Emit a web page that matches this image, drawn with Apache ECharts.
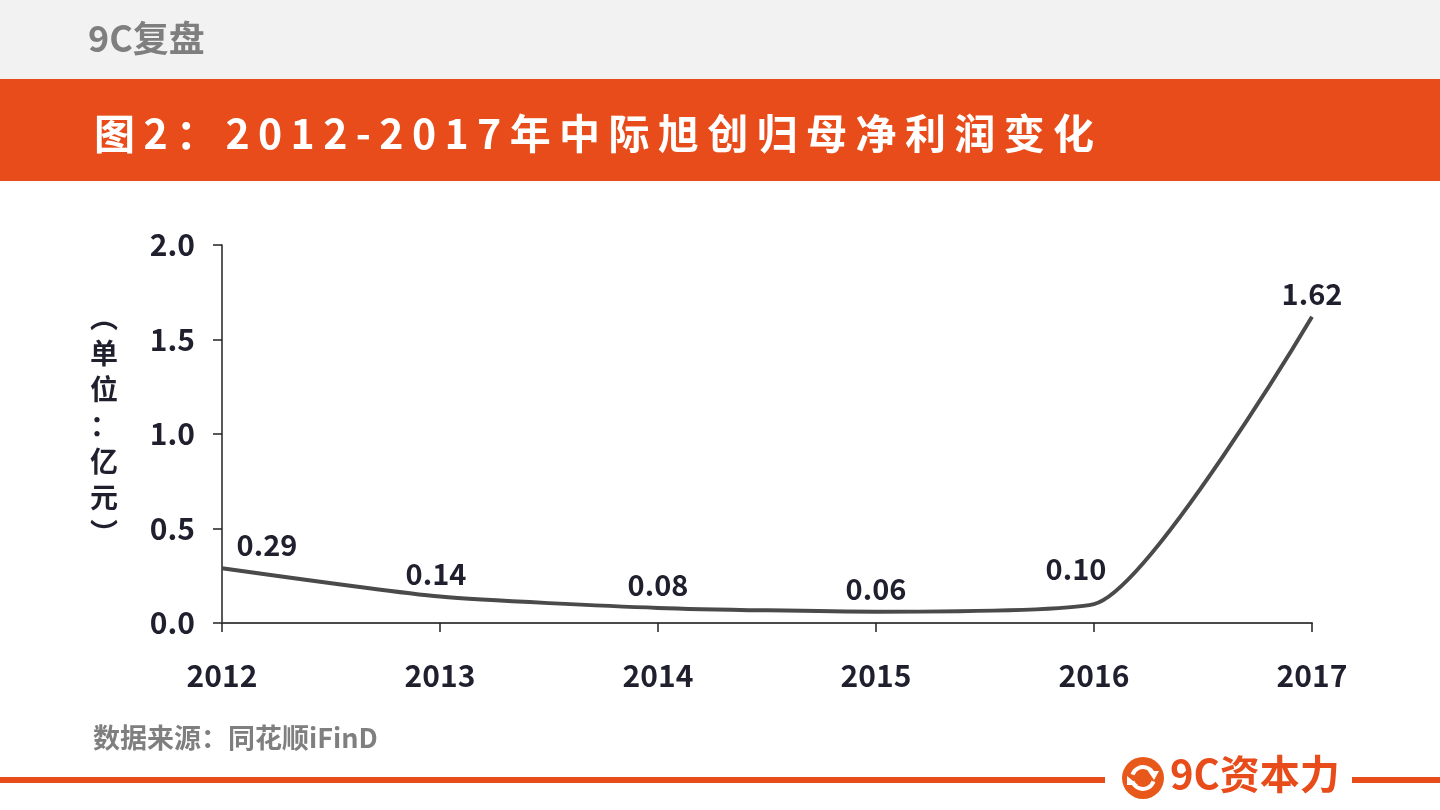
<!DOCTYPE html>
<html><head><meta charset="utf-8">
<script src="https://cdn.jsdelivr.net/npm/echarts@6/dist/echarts.min.js"></script>
<style>html,body{margin:0;padding:0;background:#fff}#c{width:1440px;height:810px}</style>
</head><body><div id="c"></div>
<script>
const years = ['2012','2013','2014','2015','2016','2017'];
const netProfit = [0.29, 0.14, 0.08, 0.06, 0.10, 1.62];
const yTicks = [0, 0.5, 1.0, 1.5, 2.0];
const headerText = '9C复盘';
const titleText = '图2：2012-2017年中际旭创归母净利润变化';
const sourceText = '数据来源：同花顺iFinD';
const brandText = '9C资本力';
const unitText = '︵\n单\n位\n：\n亿\n元\n︶';

const ORANGE = '#e84c1a';
const FONT = '"Noto Sans CJK SC","Noto Sans",sans-serif';
const labelOffsets = {0:[45,0], 1:[-4,0], 4:[-18,-12]};

// title laid out glyph by glyph with extra tracking
const titleFont = 'bold 41px ' + FONT;
const ctx = document.createElement('canvas').getContext('2d');
ctx.font = titleFont;
const titleGlyphs = [];
let tx = 94;
for (const ch of titleText) {
  titleGlyphs.push({type:'text', x:tx, y:133, style:{text:ch, fill:'#fff', font:titleFont, verticalAlign:'middle'}});
  tx += ctx.measureText(ch).width + 8.4;
}

const chart = echarts.init(document.getElementById('c'));
chart.setOption({
  animation:false,
  graphic:[
    {type:'rect', shape:{x:0,y:0,width:1440,height:79}, style:{fill:'#f2f2f2'}, z:-1},
    {type:'text', left:88, top:20, style:{text:headerText, fill:'#7f7f7f', font:'bold 36px '+FONT}},
    {type:'rect', shape:{x:0,y:79,width:1440,height:102}, style:{fill:ORANGE}, z:-1},
    ...titleGlyphs,
    {type:'text', x:104, y:299, style:{text:unitText, fill:'#1f1f2e', font:'bold 28px '+FONT, lineHeight:36, align:'center'}},
    {type:'text', left:93, top:724, style:{text:sourceText, fill:'#7f7f7f', font:'bold 27px '+FONT}},
    {type:'rect', shape:{x:0,y:777,width:1105,height:6}, style:{fill:ORANGE}},
    {type:'rect', shape:{x:1352,y:777,width:88,height:6}, style:{fill:ORANGE}},
    {type:'circle', shape:{cx:1143,cy:778,r:21}, style:{fill:'#e8581a'}},
    {type:'arc', shape:{cx:1143,cy:778,r:11,startAngle:Math.PI*1.1,endAngle:Math.PI*1.9}, style:{stroke:'#fff',lineWidth:4,fill:null}},
    {type:'arc', shape:{cx:1143,cy:778,r:11,startAngle:Math.PI*0.1,endAngle:Math.PI*0.9}, style:{stroke:'#fff',lineWidth:4,fill:null}},
    {type:'polygon', shape:{points:[[1148,771],[1159,771],[1154,780]]}, style:{fill:'#fff'}},
    {type:'polygon', shape:{points:[[1127,776],[1138,785],[1127,785]]}, style:{fill:'#fff'}},
    {type:'text', left:1170, top:754, style:{text:brandText, fill:ORANGE, font:'bold 40px '+FONT}}
  ],
  grid:{left:222, right:128, top:245, bottom:187, containLabel:false},
  xAxis:{
    type:'category', data:years, boundaryGap:false,
    axisLine:{lineStyle:{color:'#4a4a4a', width:2}},
    axisTick:{show:true, alignWithLabel:true, length:9, lineStyle:{color:'#222', width:1.5}},
    axisLabel:{color:'#1f1f2e', fontFamily:FONT, fontWeight:'bold', fontSize:30, margin:38}
  },
  yAxis:{
    type:'value', min:yTicks[0], max:yTicks[yTicks.length-1], interval:0.5,
    splitLine:{show:false},
    axisLine:{show:true, lineStyle:{color:'#222', width:1.5}},
    axisTick:{show:true, length:9, lineStyle:{color:'#222', width:1.5}},
    axisLabel:{color:'#1f1f2e', fontFamily:FONT, fontWeight:'bold', fontSize:30, margin:27,
      formatter:v=>v.toFixed(1)}
  },
  series:[{
    type:'line', smooth:0.2, symbol:'circle', symbolSize:1, showSymbol:true,
    itemStyle:{color:'rgba(0,0,0,0)'},
    lineStyle:{color:'#4a4a4a', width:4},
    data:netProfit.map((v,i)=>({value:v, label:{offset:labelOffsets[i]||[0,0]}})),
    label:{show:true, position:'top', distance:8, color:'#1f1f2e', fontFamily:FONT, fontWeight:'bold', fontSize:29,
      formatter:p=>p.value.toFixed(2)}
  }]
});
</script></body></html>
